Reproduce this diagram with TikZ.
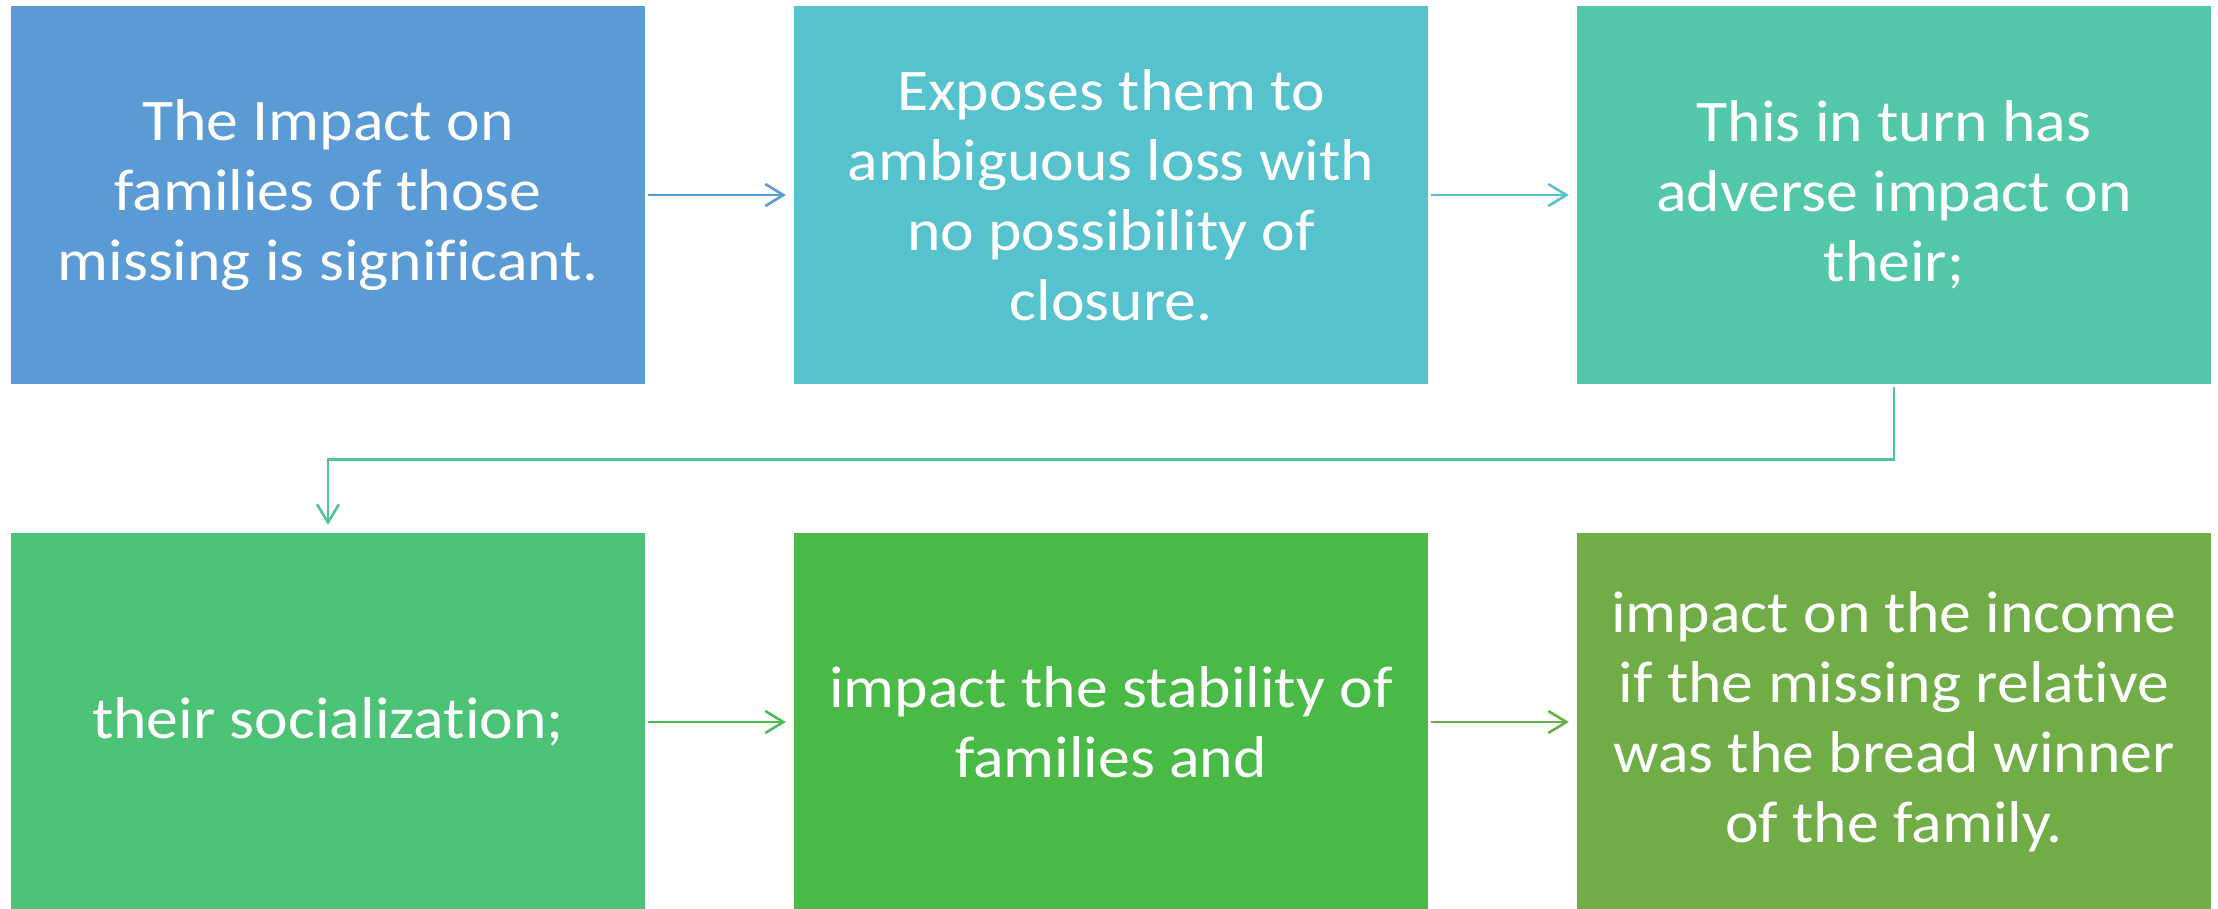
\documentclass[tikz,border=0pt]{standalone}
\usepackage{fontspec}
\setmainfont{Carlito}[FakeStretch=1.08, RawFeature=-liga]
\usetikzlibrary{arrows.meta}
\definecolor{cA}{HTML}{5B9BD5}
\definecolor{cB}{HTML}{56C2CE}
\definecolor{cC}{HTML}{52C7A9}
\definecolor{cD}{HTML}{4CC276}
\definecolor{cE}{HTML}{4ABA46}
\definecolor{cF}{HTML}{70AD47}
\definecolor{aC}{HTML}{4FC596}
\definecolor{aD}{HTML}{4BBC52}
\definecolor{aE}{HTML}{68AF47}
\tikzset{
  boxx/.style={rectangle, inner sep=0pt, minimum width=634pt, minimum height=378pt,
    text=white, align=center, font=\fontsize{59}{70}\selectfont},
  arr/.style={-{Straight Barb[length=18pt,width=22pt]}, line width=2.6pt,
    shorten <=3pt, shorten >=8pt}
}
\begin{document}
\begin{tikzpicture}[x=1pt,y=-1pt]
\useasboundingbox (0,0) rectangle (2218,908);
\node[boxx, fill=cA] (b1) at (328,195) {The Impact on\\families of those\\missing is significant.};
\node[boxx, fill=cB] (b2) at (1111,195) {Exposes them to\\ambiguous loss with\\no possibility of\\closure.};
\node[boxx, fill=cC] (b3) at (1894,195) {This in turn has\\adverse impact on\\their;};
\node[boxx, fill=cD] (b4) at (328,722) {their socialization;};
\node[boxx, fill=cE] (b5) at (1111,722) {impact the stability of\\families and};
\node[boxx, fill=cF] (b6) at (1894,722) {impact on the income\\if the missing relative\\was the bread winner\\of the family.};
\draw[arr, cA] (b1) -- (b2);
\draw[arr, cB] (b2) -- (b3);
\draw[arr, aC] (b3.south) -- ++(0,75) -| (b4.north);
\draw[arr, aD] (b4) -- (b5);
\draw[arr, aE] (b5) -- (b6);
\end{tikzpicture}
\end{document}
